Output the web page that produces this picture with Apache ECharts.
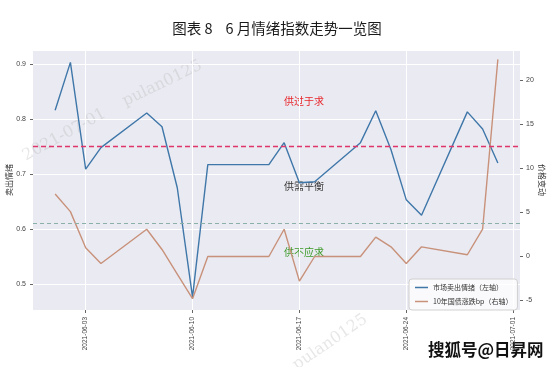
<!DOCTYPE html>
<html>
<head>
<meta charset="utf-8">
<script src="https://cdn.jsdelivr.net/npm/echarts@6/dist/echarts.min.js"></script>
<style>
html,body{margin:0;padding:0;background:#fff;}
#c{width:554px;height:367px;}
</style>
</head>
<body>
<div id="c"></div>
<script>
// ---- data ----
const dates = ['2021-06-01','2021-06-02','2021-06-03','2021-06-04','2021-06-07','2021-06-08','2021-06-09','2021-06-10','2021-06-11','2021-06-15','2021-06-16','2021-06-17','2021-06-18','2021-06-21','2021-06-22','2021-06-23','2021-06-24','2021-06-25','2021-06-28','2021-06-29','2021-06-30'];
const sentiment = [0.816,0.903,0.709,0.748,0.811,0.786,0.675,0.476,0.717,0.717,0.757,0.684,0.686,0.757,0.815,0.744,0.653,0.625,0.813,0.782,0.720];
const bondChange = [7.1,5.1,1.0,-0.8,3.1,0.8,-2.0,-4.8,0.0,0.0,3.1,-2.8,0.0,0.0,2.2,1.1,-0.8,1.1,0.2,3.1,22.4];
const xTickLabels = ['2021-06-03','2021-06-10','2021-06-17','2021-06-24','2021-07-01'];
const thresholds = [0.75, 0.61];
const seriesNames = ['市场卖出情绪（左轴）','10年国债涨跌bp（右轴）'];
const annotations = ['供过于求','供需平衡','供不应求'];

// day number (days since 2021-01-01 UTC) for positioning on a plain value axis
function dayNum(s){ const p=s.split('-'); return Math.round((Date.UTC(+p[0], +p[1]-1, +p[2]) - Date.UTC(2021,0,1))/86400000); }
function pad(n){ return (n<10?'0':'')+n; }
function dayLabel(v){ const d=new Date(Date.UTC(2021,0,1)+Math.round(v)*86400000); return d.getUTCFullYear()+'-'+pad(d.getUTCMonth()+1)+'-'+pad(d.getUTCDate()); }
const xMin = dayNum(dates[0]) - 1.45;
const xMax = dayNum(dates[dates.length-1]) + 1.45;
const tickVals = xTickLabels.map(dayNum);

const chart = echarts.init(document.getElementById('c'), null, {renderer:'canvas'});
const option = {
  animation:false,
  backgroundColor:'#ffffff',
  title:{
    text:'图表 8\u00a0\u00a0\u00a0\u00a06\u00a0月情绪指数走势一览图',
    left:'center', top:16,
    textStyle:{fontSize:14.5, fontWeight:'normal', color:'#1a1a1a', fontFamily:'Noto Sans CJK SC'}
  },
  grid:{left:33, right:34, top:50, bottom:57, show:true, backgroundColor:'#eaeaf2', borderWidth:0, outerBoundsMode:'none', containLabel:false},
  legend:{
    orient:'vertical', left:409, top:279,
    data:seriesNames.map(n=>({name:n, icon:'rect'})),
    itemWidth:13, itemHeight:1.5, itemGap:7,
    textStyle:{fontSize:7, color:'#333', fontFamily:'Noto Sans CJK SC'},
    backgroundColor:'rgba(255,255,255,0.75)', borderColor:'#d0d0d0', borderWidth:1, borderRadius:3,
    padding:[5,5,5,6]
  },
  xAxis:{
    type:'value', min:xMin, max:xMax,
    axisLine:{show:false, onZero:false},
    axisTick:{show:true, customValues:tickVals, length:3, lineStyle:{color:'#666'}},
    axisLabel:{customValues:tickVals, rotate:90, fontSize:6.5, color:'#444', margin:7, formatter:dayLabel},
    splitLine:{show:true, lineStyle:{color:'#ffffff', width:1}}
  },
  yAxis:[
    {type:'value', min:0.4527, max:0.9255, splitNumber:5, position:'left',
     name:'卖出情绪', nameLocation:'middle', nameGap:20, nameMoveOverlap:false,
     nameTextStyle:{fontSize:8, color:'#333', fontFamily:'Noto Sans CJK SC'},
     axisLine:{show:false}, axisTick:{show:true, length:3, lineStyle:{color:'#666'}},
     axisLabel:{fontSize:7, color:'#444', margin:7, showMinLabel:false, showMaxLabel:false},
     splitLine:{show:true, lineStyle:{color:'#ffffff', width:1}}},
    {type:'value', min:-6.08, max:23.47, splitNumber:6, position:'right',
     name:'价格变动', nameLocation:'middle', nameGap:18, nameRotate:-90, nameMoveOverlap:false,
     nameTextStyle:{fontSize:8, color:'#333', fontFamily:'Noto Sans CJK SC'},
     axisLine:{show:false}, axisTick:{show:true, length:3, lineStyle:{color:'#666'}},
     axisLabel:{fontSize:7, color:'#444', margin:6, showMinLabel:false, showMaxLabel:false},
     splitLine:{show:false}}
  ],
  series:[
    {name:seriesNames[0], type:'line', yAxisIndex:0, showSymbol:false, symbol:'none',
     data:dates.map((d,i)=>[dayNum(d), sentiment[i]]),
     lineStyle:{color:'#3f77a9', width:1.4}, itemStyle:{color:'#3f77a9'},
     markLine:{silent:true, symbol:'none', label:{show:false},
       data:[
         {yAxis:thresholds[0], lineStyle:{color:'#e0356a', width:1.4, type:[5,3]}},
         {yAxis:thresholds[1], lineStyle:{color:'#8ab0a8', width:1, type:[4,3]}}
       ]}},
    {name:seriesNames[1], type:'line', yAxisIndex:1, showSymbol:false, symbol:'none',
     data:dates.map((d,i)=>[dayNum(d), bondChange[i]]),
     lineStyle:{color:'#c8917a', width:1.4}, itemStyle:{color:'#c8917a'}}
  ],
  graphic:[
    {type:'text', left:284, top:96, style:{text:annotations[0], fontSize:10, fill:'#e8262a', fontFamily:'Noto Sans CJK SC'}},
    {type:'text', left:284, top:181, style:{text:annotations[1], fontSize:10, fill:'#333', fontFamily:'Noto Sans CJK SC'}},
    {type:'text', left:284, top:247, style:{text:annotations[2], fontSize:10, fill:'#3a9a28', fontFamily:'Noto Sans CJK SC'}},
    {type:'text', x:20, y:150, rotation:0.5, style:{text:'2021-07-01', fontSize:16, fill:'rgba(170,170,170,0.28)', fontFamily:'DejaVu Serif'}},
    {type:'text', x:120, y:95, rotation:0.45, style:{text:'pulan0125', fontSize:16, fill:'rgba(170,170,170,0.28)', fontFamily:'DejaVu Serif'}},
    {type:'text', x:290, y:360, rotation:0.6, style:{text:'pulan0125', fontSize:16, fill:'rgba(170,170,170,0.28)', fontFamily:'DejaVu Serif'}},
    {type:'text', right:9, top:340, style:{text:'搜狐号@日昇网', fontSize:16.5, fontWeight:'bold', fill:'#111', stroke:'#fff', lineWidth:3, fontFamily:'Noto Sans CJK SC'}}
  ]
};
chart.setOption(option);
</script>
</body>
</html>
